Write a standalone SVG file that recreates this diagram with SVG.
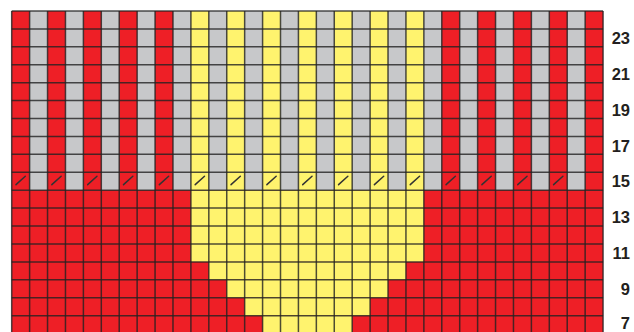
<svg xmlns="http://www.w3.org/2000/svg" xmlns:xlink="http://www.w3.org/1999/xlink" width="634" height="332" viewBox="0 0 634 332">
<style>
.r{fill:#EE1F26}.g{fill:#C7C8CA}.y{fill:#FFF36E}
.grid{stroke:#222;stroke-opacity:0.8;stroke-width:1.5;fill:none}
.sl{stroke:#333;stroke-width:1.5;stroke-linecap:round}
.lbl{font-family:"Liberation Sans",Arial,sans-serif;font-weight:bold;font-size:16.5px;fill:#231F20;text-anchor:end}
</style>
<defs>
<line id="s" class="sl" x1="4.3" y1="12.4" x2="13.6" y2="4"/>
</defs>
<rect width="634" height="332" fill="#fff"/>
<g id="stripes">
<rect class="g" x="11.7" y="11" width="591.36" height="179.2"/>
<rect class="r" x="11.7" y="11" width="17.92" height="179.2"/>
<rect class="r" x="47.54" y="11" width="17.92" height="179.2"/>
<rect class="r" x="83.38" y="11" width="17.92" height="179.2"/>
<rect class="r" x="119.22" y="11" width="17.92" height="179.2"/>
<rect class="r" x="155.06" y="11" width="17.92" height="179.2"/>
<rect class="y" x="190.9" y="11" width="17.92" height="179.2"/>
<rect class="y" x="226.74" y="11" width="17.92" height="179.2"/>
<rect class="y" x="262.58" y="11" width="17.92" height="179.2"/>
<rect class="y" x="298.42" y="11" width="17.92" height="179.2"/>
<rect class="y" x="334.26" y="11" width="17.92" height="179.2"/>
<rect class="y" x="370.1" y="11" width="17.92" height="179.2"/>
<rect class="y" x="405.94" y="11" width="17.92" height="179.2"/>
<rect class="r" x="441.78" y="11" width="17.92" height="179.2"/>
<rect class="r" x="477.62" y="11" width="17.92" height="179.2"/>
<rect class="r" x="513.46" y="11" width="17.92" height="179.2"/>
<rect class="r" x="549.3" y="11" width="17.92" height="179.2"/>
<rect class="r" x="585.14" y="11" width="17.92" height="179.2"/>
</g>
<g id="lower">
<rect class="r" x="11.7" y="190.2" width="591.36" height="143.36"/>
<rect class="y" x="190.9" y="190.2" width="232.96" height="71.68"/>
<rect class="y" x="208.82" y="261.88" width="197.12" height="17.92"/>
<rect class="y" x="226.74" y="279.8" width="161.28" height="17.92"/>
<rect class="y" x="244.66" y="297.72" width="125.44" height="17.92"/>
<rect class="y" x="262.58" y="315.64" width="89.6" height="17.92"/>
</g>
<g id="grid" class="grid">
<path d="M11.7 11V333.56M29.62 11V333.56M47.54 11V333.56M65.46 11V333.56M83.38 11V333.56M101.3 11V333.56M119.22 11V333.56M137.14 11V333.56M155.06 11V333.56M172.98 11V333.56M190.9 11V333.56M208.82 11V333.56M226.74 11V333.56M244.66 11V333.56M262.58 11V333.56M280.5 11V333.56M298.42 11V333.56M316.34 11V333.56M334.26 11V333.56M352.18 11V333.56M370.1 11V333.56M388.02 11V333.56M405.94 11V333.56M423.86 11V333.56M441.78 11V333.56M459.7 11V333.56M477.62 11V333.56M495.54 11V333.56M513.46 11V333.56M531.38 11V333.56M549.3 11V333.56M567.22 11V333.56M585.14 11V333.56M603.06 11V333.56"/>
<path d="M11.7 11H603.06M11.7 28.92H603.06M11.7 46.84H603.06M11.7 64.76H603.06M11.7 82.68H603.06M11.7 100.6H603.06M11.7 118.52H603.06M11.7 136.44H603.06M11.7 154.36H603.06M11.7 172.28H603.06M11.7 190.2H603.06M11.7 208.12H603.06M11.7 226.04H603.06M11.7 243.96H603.06M11.7 261.88H603.06M11.7 279.8H603.06M11.7 297.72H603.06M11.7 315.64H603.06"/>
</g>
<g id="slashes">
<use xlink:href="#s" x="11.7" y="172.28"/>
<use xlink:href="#s" x="47.54" y="172.28"/>
<use xlink:href="#s" x="83.38" y="172.28"/>
<use xlink:href="#s" x="119.22" y="172.28"/>
<use xlink:href="#s" x="155.06" y="172.28"/>
<use xlink:href="#s" x="190.9" y="172.28"/>
<use xlink:href="#s" x="226.74" y="172.28"/>
<use xlink:href="#s" x="262.58" y="172.28"/>
<use xlink:href="#s" x="298.42" y="172.28"/>
<use xlink:href="#s" x="334.26" y="172.28"/>
<use xlink:href="#s" x="370.1" y="172.28"/>
<use xlink:href="#s" x="405.94" y="172.28"/>
<use xlink:href="#s" x="441.78" y="172.28"/>
<use xlink:href="#s" x="477.62" y="172.28"/>
<use xlink:href="#s" x="513.46" y="172.28"/>
<use xlink:href="#s" x="549.3" y="172.28"/>
</g>
<g id="labels" class="lbl">
<text x="630" y="44">23</text>
<text x="630" y="79.8">21</text>
<text x="630" y="115.7">19</text>
<text x="630" y="151.5">17</text>
<text x="630" y="187.3">15</text>
<text x="630" y="223.2">13</text>
<text x="630" y="259">11</text>
<text x="630" y="294.9">9</text>
<text x="630" y="328.8">7</text>
</g>
</svg>
